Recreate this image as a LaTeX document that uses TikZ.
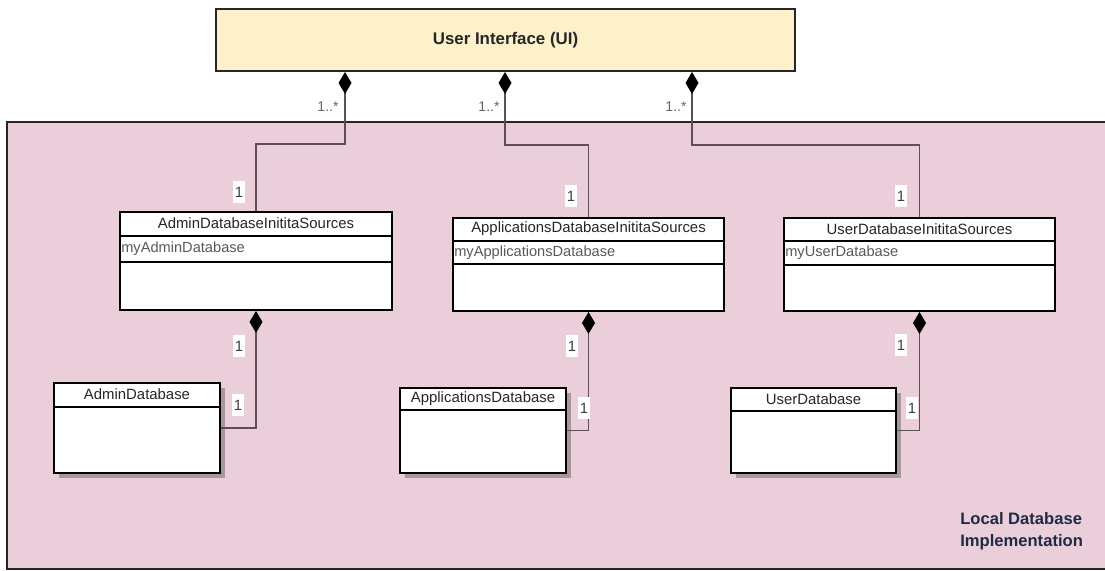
\documentclass[tikz,border=0pt]{standalone}
\usepackage{fontspec}
\setmainfont{Liberation Sans}
\usetikzlibrary{positioning,arrows.meta,calc,shadows}

\definecolor{uifill}{HTML}{FDF1CC}
\definecolor{pkgfill}{HTML}{EACFDA}
\definecolor{linkgray}{HTML}{5E4E58}
\definecolor{shadegray}{HTML}{A8979F}
\definecolor{pkgtext}{HTML}{1F2A44}
\def\px{0.025cm}

\tikzset{
  uibox/.style={draw=black!85, line width=1.4pt, fill=uifill, inner sep=0pt,
    font=\bfseries\fontsize{12}{14}\selectfont, text=black!85},
  pkgbox/.style={fill=pkgfill, inner sep=0pt},
  pkgborder/.style={draw=black!85, line width=1.4pt},
  classbox/.style={draw=black, line width=1.4pt, fill=white, inner sep=0pt, anchor=north},
  dbbox/.style={classbox, general shadow={fill=shadegray, shadow xshift=5*\px, shadow yshift=-5*\px}},
  divider/.style={draw=black, line width=1.4pt},
  classname/.style={inner sep=0pt, font=\fontsize{10.6}{12}\selectfont, text=black!85},
  attrname/.style={inner sep=0pt, anchor=west, font=\fontsize{10.4}{12}\selectfont, text=black!65},
  link/.style={draw=linkgray, line width=1pt},
  composite/.style={link, {Diamond[black, length=5.5mm, width=3.25mm]}-},
  one/.style={fill=white, inner sep=0pt, minimum width=12*\px, minimum height=22*\px,
    font=\fontsize{10.6}{12}\selectfont, text=black!75},
  many/.style={inner sep=0pt, font=\fontsize{10}{12}\selectfont, text=black!60},
  pkglabel/.style={inner sep=0pt, anchor=base west, font=\bfseries\fontsize{11.8}{14}\selectfont, text=pkgtext}
}

\begin{document}
\begin{tikzpicture}[x=0.025cm, y=-0.025cm]
  \useasboundingbox (0,0) rectangle (1105,571);

  % Pacote
  \node[pkgbox, minimum width=1098*\px, minimum height=447*\px] (pkg) at (556,345.5) {};
  \draw[pkgborder] (pkg.north east) -- (pkg.north west) -- (pkg.south west) -- (pkg.south east);
  \node[pkglabel] (pkgname) at (960,524) {Local Database};
  \node[pkglabel] (pkgname2) at (960,546) {Implementation};

  % Interface
  \node[uibox, minimum width=579*\px, minimum height=62*\px] (ui) at (505.5,40) {User Interface (UI)};

  % Classes de inicializacao
  \node[classbox, minimum width=272*\px, minimum height=98*\px] (adminis) at (256,211) {};
  \node[classbox, minimum width=271*\px, minimum height=93*\px] (appsis) at (588.5,217) {};
  \node[classbox, minimum width=271*\px, minimum height=93*\px] (useris) at (919.5,217) {};
  \foreach \c/\a/\b in {adminis/25/51, appsis/24/47, useris/24/48} {
    \draw[divider] ($(\c.north west)+(0,\a)$) -- ($(\c.north east)+(0,\a)$);
    \draw[divider] ($(\c.north west)+(0,\b)$) -- ($(\c.north east)+(0,\b)$);
  }
  \node[classname] (adminis-t) at ($(adminis.north)+(0,12.5)$) {AdminDatabaseInititaSources};
  \node[attrname] (adminis-a) at ($(adminis.north west)+(2,38)$) {myAdminDatabase};
  \node[classname] (appsis-t) at ($(appsis.north)+(0,12)$) {ApplicationsDatabaseInititaSources};
  \node[attrname] (appsis-a) at ($(appsis.north west)+(2,35.5)$) {myApplicationsDatabase};
  \node[classname] (useris-t) at ($(useris.north)+(0,12)$) {UserDatabaseInititaSources};
  \node[attrname] (useris-a) at ($(useris.north west)+(2,36)$) {myUserDatabase};

  % Bases de dados
  \node[dbbox, minimum width=166*\px, minimum height=90*\px] (admindb) at (137,382) {};
  \node[dbbox, minimum width=166*\px, minimum height=85*\px] (appsdb) at (483,387) {};
  \node[dbbox, minimum width=165*\px, minimum height=85*\px] (userdb) at (813.5,387) {};
  \foreach \c/\a in {admindb/25, appsdb/23, userdb/24} {
    \draw[divider] ($(\c.north west)+(0,\a)$) -- ($(\c.north east)+(0,\a)$);
  }
  \node[classname] (admindb-t) at ($(admindb.north)+(0,12.5)$) {AdminDatabase};
  \node[classname] (appsdb-t) at ($(appsdb.north)+(0,11.5)$) {ApplicationsDatabase};
  \node[classname] (userdb-t) at ($(userdb.north)+(0,12)$) {UserDatabase};

  % Composicoes
  \draw[composite] ($(ui.south west)+(130,0)$) -- ++(0,72) -| (adminis.north);
  \draw[composite] ($(ui.south west)+(290,0)$) -- ++(0,73) -| (appsis.north);
  \draw[composite] ($(ui.south west)+(477,0)$) -- ++(0,73) -| (useris.north);
  \draw[composite] (adminis.south) |- (admindb.east);
  \draw[composite] (appsis.south) |- (appsdb.east);
  \draw[composite] (useris.south) |- (userdb.east);

  % Multiplicidades
  \node[many] (m1) at (328,107) {1..*};
  \node[many] (m2) at (489,107) {1..*};
  \node[many] (m3) at (676,107) {1..*};
  \node[one] (o1) at (239,192) {1};
  \node[one] (o2) at (571,196) {1};
  \node[one] (o3) at (901,196) {1};
  \node[one] (o4) at (239,346) {1};
  \node[one] (o5) at (572,346) {1};
  \node[one] (o6) at (901,345) {1};
  \node[one] (o7) at (238,405) {1};
  \node[one] (o8) at (584,408) {1};
  \node[one] (o9) at (912,408) {1};
\end{tikzpicture}
\end{document}
